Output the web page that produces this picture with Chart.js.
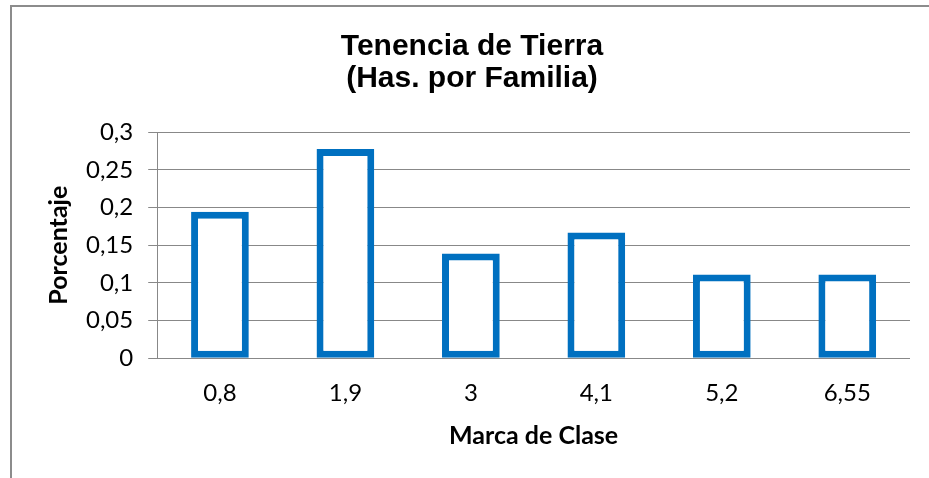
<!DOCTYPE html>
<html>
<head>
<meta charset="utf-8">
<script src="https://cdn.jsdelivr.net/npm/chart.js@4"></script>
<style>
  html, body { margin: 0; padding: 0; background: #fff; overflow: hidden; }
  #box {
    position: absolute; left: 10px; top: 5px;
    width: 920px; height: 473px;
    border-left: 2px solid #8c8c8c; border-top: 2px solid #8c8c8c;
  }
</style>
</head>
<body>
<div id="box"><canvas id="chart" width="920" height="473"></canvas></div>
<script>
// Marca de clase (categories) and share of families per class
const categories = ["0,8", "1,9", "3", "4,1", "5,2", "6,55"];
const porcentaje = [0.1944, 0.2778, 0.1389, 0.1667, 0.1111, 0.1111];
const titleLines = ["Tenencia de Tierra", "(Has. por Familia)"];

const ctx = document.getElementById("chart").getContext("2d");
new Chart(ctx, {
    type: "bar",
    data: {
        labels: categories,
        datasets: [{
            data: porcentaje,
            backgroundColor: "#ffffff",
            borderColor: "#0070c0",
            borderWidth: 7,
            borderSkipped: false,
            categoryPercentage: 1,
            barPercentage: 0.46
        }]
    },
    options: {
        responsive: false,
        animation: false,
        layout: { padding: { left: 22, right: 22, top: 24, bottom: 29 } },
        plugins: {
            legend: { display: false },
            tooltip: { enabled: false },
            title: {
                display: true,
                text: titleLines,
                color: "#000",
                font: { family: "'Liberation Sans', Arial", size: 30, weight: "bold", lineHeight: 1.07 },
                padding: { top: 0, bottom: 37 }
            }
        },
        scales: {
            x: {
                grid: { display: false },
                border: { display: false },
                ticks: { color: "#000", font: { family: "Lato", size: 24 }, padding: 13 },
                title: {
                    display: true, text: "Marca de Clase", color: "#000",
                    font: { family: "Lato", size: 25, weight: "bold" }, padding: { top: 0, bottom: 0 }
                }
            },
            y: {
                min: 0, max: 0.3,
                grid: { color: "#888", lineWidth: 1, tickLength: 9, tickColor: "#888" },
                border: { display: true, color: "#888", width: 1 },
                ticks: {
                    stepSize: 0.05, color: "#000", padding: 15,
                    font: { family: "Lato", size: 24 },
                    callback: v => String(Number(v.toFixed(2))).replace(".", ",")
                },
                title: {
                    display: true, text: "Porcentaje", color: "#000",
                    font: { family: "Lato", size: 25, weight: "bold", lineHeight: 1 },
                    padding: { top: 12, bottom: 0 }
                }
            }
        }
    }
});
</script>
</body>
</html>
